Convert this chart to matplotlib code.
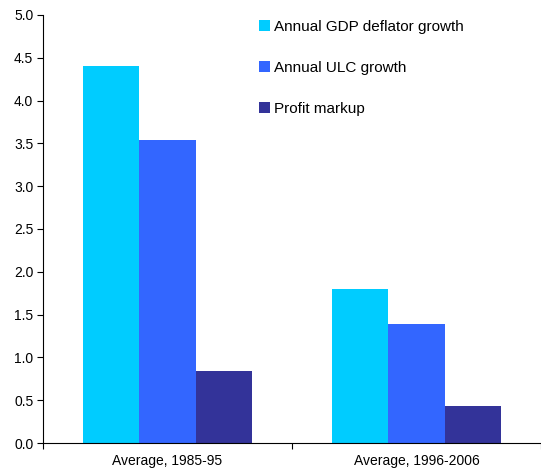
import matplotlib
matplotlib.use("Agg")
import matplotlib.pyplot as plt
import numpy as np
from matplotlib.ticker import FixedLocator

plt.rcParams['font.family'] = ['Liberation Sans', 'DejaVu Sans']

categories = ["Average, 1985-95", "Average, 1996-2006"]
series_names = ["Annual GDP deflator growth", "Annual ULC growth", "Profit markup"]
gdp_deflator = [4.40, 1.80]
ulc_growth = [3.54, 1.39]
profit_markup = [0.84, 0.43]
colors = ["#00CCFF", "#3366FF", "#333399"]

fig = plt.figure(figsize=(5.41, 4.73), dpi=100)
ax = fig.add_axes([43 / 541, 30 / 473, 498 / 541, 428 / 473])

x = np.arange(len(categories))
width = 0.225
for i, (vals, name, c) in enumerate(zip([gdp_deflator, ulc_growth, profit_markup], series_names, colors)):
    ax.bar(x + (i - 1) * width, vals, width, color=c, label=name, linewidth=0)

ax.set_xlim(-0.5, 1.5)
ax.set_ylim(0, 5.0)
ax.set_yticks(np.arange(0, 5.01, 0.5))
ax.set_yticklabels([f"{v:.1f}" for v in np.arange(0, 5.01, 0.5)], fontsize=10)
ax.set_xticks(x)
ax.set_xticklabels(categories, fontsize=10)
ax.tick_params(axis='x', length=0, pad=8)
ax.xaxis.set_minor_locator(FixedLocator([-0.5, 0.5, 1.5]))
ax.tick_params(axis='x', which='minor', length=4, width=0.8, color='black')
ax.tick_params(axis='y', length=4, width=0.8, pad=3)

for s in ['top', 'right']:
    ax.spines[s].set_visible(False)
for s in ['left', 'bottom']:
    ax.spines[s].set_linewidth(0.8)
    ax.spines[s].set_color('black')

ax.legend(loc='upper left', bbox_to_anchor=(253 / 541, 1 - 14 / 473),
          bbox_transform=fig.transFigure, frameon=False, fontsize=11,
          handlelength=0.7, handleheight=0.7, handletextpad=0.3,
          labelspacing=1.75, borderaxespad=0)

fig.savefig("out.png", dpi=100)
